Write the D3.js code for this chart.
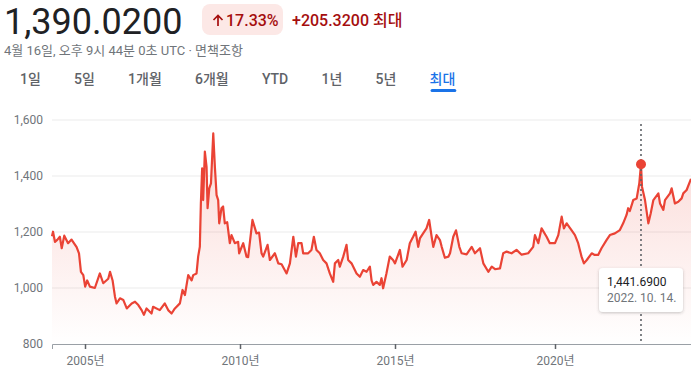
<!DOCTYPE html>
<html>
<head>
<meta charset="utf-8">
<script src="https://cdn.jsdelivr.net/npm/d3@7"></script>
<style>
  body { margin: 0; background: #fff; }
  svg { display: block; font-family: Roboto, "Noto Sans CJK KR", sans-serif; }
</style>
</head>
<body>
<div id="chart"></div>
<script>
// USD/KRW, max range
const dates = [
  '2003-12-08','2003-12-20','2004-01-12','2004-02-08','2004-03-10','2004-04-01','2004-05-01','2004-06-15',
  '2004-07-26','2004-09-24','2004-10-22','2004-11-14','2004-12-12','2005-01-03','2005-01-27','2005-02-28',
  '2005-04-27','2005-06-25','2005-08-04','2005-10-02','2005-10-23','2005-11-22','2005-12-20','2006-01-08',
  '2006-02-17','2006-03-29','2006-05-08','2006-07-05','2006-08-13','2006-09-21','2006-10-30','2006-11-26',
  '2006-12-27','2007-02-24','2007-03-14','2007-06-01','2007-07-30','2007-09-08','2007-10-18','2007-11-26',
  '2008-01-24','2008-02-24','2008-03-23','2008-05-01','2008-06-10','2008-06-29','2008-08-07','2008-08-26',
  '2008-09-15','2008-09-27','2008-10-12','2008-10-24','2008-11-13','2008-12-03','2008-12-15','2009-01-04',
  '2009-01-24','2009-02-20','2009-03-11','2009-03-31','2009-04-19','2009-05-01','2009-05-28','2009-06-16',
  '2009-07-06','2009-08-03','2009-09-03','2009-09-23','2009-11-01','2009-12-10','2009-12-22','2010-02-08',
  '2010-03-19','2010-04-07','2010-05-28','2010-07-14','2010-08-14','2010-09-12','2010-10-01','2010-11-22',
  '2010-12-19','2011-02-16','2011-03-28','2011-05-06','2011-07-04','2011-08-12','2011-09-21','2011-10-22',
  '2011-11-18','2011-12-27','2012-01-15','2012-03-14','2012-04-22','2012-05-20','2012-06-20','2012-07-29',
  '2012-09-07','2012-10-16','2012-11-24','2013-01-03','2013-01-23','2013-03-03','2013-03-22','2013-05-01',
  '2013-06-09','2013-06-28','2013-08-07','2013-10-05','2013-11-13','2013-12-22','2014-01-31','2014-03-11',
  '2014-03-31','2014-04-19','2014-05-28','2014-07-06','2014-07-26','2014-08-14','2014-09-22','2014-10-31',
  '2014-12-09','2015-01-01','2015-02-26','2015-03-28','2015-05-14','2015-06-19','2015-07-27','2015-08-24',
  '2015-09-23','2015-10-12','2015-11-18','2015-12-26','2016-01-26','2016-02-23','2016-03-13','2016-04-19',
  '2016-05-28','2016-06-17','2016-07-23','2016-09-01','2016-09-20','2016-10-27','2016-11-27','2017-01-04',
  '2017-01-31','2017-03-28','2017-05-25','2017-07-01','2017-08-28','2017-10-05','2017-12-01','2018-01-09',
  '2018-02-16','2018-04-13','2018-05-20','2018-06-28','2018-08-24','2018-10-19','2018-12-16','2019-03-01',
  '2019-04-27','2019-05-17','2019-06-24','2019-08-01','2019-09-27','2019-11-03','2020-01-01','2020-02-09',
  '2020-03-20','2020-04-15','2020-05-18','2020-07-16','2020-08-24','2020-10-01','2020-11-10','2020-12-08',
  '2021-01-11','2021-03-10','2021-04-15','2021-05-25','2021-07-04','2021-09-01','2021-10-11','2021-12-09',
  '2022-02-06','2022-03-17','2022-04-26','2022-05-15','2022-06-04','2022-07-14','2022-08-24','2022-09-24',
  '2022-10-14','2022-10-25','2022-11-27','2023-01-03','2023-01-29','2023-02-27','2023-04-23','2023-05-11',
  '2023-06-17','2023-07-05','2023-08-29','2023-09-16','2023-10-22','2023-11-28','2024-01-04','2024-01-22',
  '2024-02-28','2024-04-16'
];
const rates = [
  1184.7,1201,1165,1172,1183,1142,1187,1160,
  1173,1146,1124,1058,1046,1005,1027,1005,
  1000,1052,1017,1033,1058,1027,969,945,
  963,957,927,945,951,939,921,904,
  927,909,933,921,945,921,909,927,
  945,993,975,1046,1027,1046,1052,1112,
  1148,1302,1427,1314,1487,1433,1285,1356,
  1374,1552,1433,1332,1314,1231,1285,1291,
  1231,1235,1160,1189,1160,1165,1124,1160,
  1112,1110,1243,1195,1198,1124,1112,1154,
  1100,1124,1088,1085,1052,1088,1183,1112,
  1160,1160,1124,1124,1136,1183,1136,1124,
  1100,1088,1052,1022,1088,1100,1076,1112,
  1154,1100,1088,1052,1040,1064,1058,1076,
  1027,1011,1022,1011,1035,999,1052,1112,
  1100,1088,1136,1076,1100,1160,1183,1201,
  1147,1177,1195,1213,1243,1183,1147,1189,
  1171,1147,1108,1112,1124,1183,1206,1147,
  1124,1120,1147,1124,1142,1088,1058,1076,
  1067,1070,1124,1130,1124,1136,1119,1124,
  1147,1189,1160,1213,1183,1160,1160,1189,
  1255,1213,1231,1206,1189,1160,1112,1088,
  1100,1124,1118,1118,1142,1171,1189,1195,
  1207,1231,1261,1285,1275,1314,1320,1374,
  1441.69,1362,1314,1231,1267,1314,1338,1302,
  1279,1314,1338,1356,1302,1308,1320,1338,
  1350,1390.02
];

const yTicks = [800, 1000, 1200, 1400, 1600];
const yearTicks = [2005, 2010, 2015, 2020];
const tabs = ['1일', '5일', '1개월', '6개월', 'YTD', '1년', '5년', '최대'];
const activeTab = '최대';

const priceText = '1,390.0200';
const changePct = '17.33%';
const changeAbs = '+205.3200 최대';
const subtitle = '4월 16일, 오후 9시 44분 0초 UTC · 면책조항';
const markedDate = '2022-10-14';

const W = 691, H = 373;
const RED = '#ea4335', DARK_RED = '#a50e0e', GREY = '#70757a';

const parse = d3.timeParse('%Y-%m-%d');
const data = dates.map((d, i) => ({ date: parse(d), value: rates[i] }));
const marked = data.find(d => d3.timeFormat('%Y-%m-%d')(d.date) === markedDate);

const svg = d3.select('#chart').append('svg')
  .attr('width', W).attr('height', H);

// ---- header ----
svg.append('text')
  .attr('x', 4).attr('y', 34)
  .attr('font-size', 36).attr('fill', '#202124')
  .text(priceText);

svg.append('rect')
  .attr('x', 202).attr('y', 4).attr('width', 81).attr('height', 31)
  .attr('rx', 8).attr('fill', '#fce8e6');

svg.append('path')
  .attr('d', 'M218 26V15.5M213.5 20L218 15.5L222.5 20')
  .attr('fill', 'none').attr('stroke', DARK_RED).attr('stroke-width', 1.7);

svg.append('text')
  .attr('x', 226).attr('y', 26)
  .attr('font-size', 16).attr('font-weight', 500).attr('fill', DARK_RED)
  .text(changePct);

svg.append('text')
  .attr('x', 292).attr('y', 26)
  .attr('font-size', 16).attr('font-weight', 500).attr('fill', DARK_RED)
  .text(changeAbs);

svg.append('text')
  .attr('x', 4).attr('y', 55)
  .attr('font-size', 13).attr('fill', GREY)
  .text(subtitle);

// tab row, laid out left to right
let tabX = 20;
tabs.forEach(t => {
  const active = t === activeTab;
  const el = svg.append('text')
    .attr('x', tabX).attr('y', 84)
    .attr('font-size', 14).attr('font-weight', 500)
    .attr('fill', active ? '#1a73e8' : '#5f6368')
    .text(t);
  const w = el.node().getComputedTextLength();
  if (active) {
    svg.append('rect')
      .attr('x', tabX + 1).attr('y', 89).attr('width', w).attr('height', 3)
      .attr('rx', 1.5).attr('fill', '#1a73e8');
  }
  tabX += w + 33.2;
});

// ---- chart ----
const plot = { left: 52, right: 691, top: 120, bottom: 344 };

// google spaces the points by index, so the year ticks are not evenly spaced
const x = d3.scaleTime()
  .domain([data[0].date, new Date(2005, 0, 1), new Date(2010, 0, 1), new Date(2015, 0, 1),
           new Date(2020, 0, 1), marked.date, data[data.length - 1].date])
  .range([plot.left, 85, 240, 395, 555, 641, plot.right]);

const y = d3.scaleLinear()
  .domain([800, 1600])
  .range([plot.bottom, plot.top]);

const defs = svg.append('defs');
const grad = defs.append('linearGradient')
  .attr('id', 'areaFill')
  .attr('gradientUnits', 'userSpaceOnUse')
  .attr('x1', 0).attr('x2', 0)
  .attr('y1', plot.top).attr('y2', plot.bottom);
grad.append('stop').attr('offset', 0).attr('stop-color', RED).attr('stop-opacity', 0.22);
grad.append('stop').attr('offset', 1).attr('stop-color', RED).attr('stop-opacity', 0);

const shadow = defs.append('filter').attr('id', 'tipShadow')
  .attr('x', '-20%').attr('y', '-30%').attr('width', '140%').attr('height', '160%');
shadow.append('feDropShadow')
  .attr('dx', 0).attr('dy', 1).attr('stdDeviation', 1.5)
  .attr('flood-color', '#3c4043').attr('flood-opacity', 0.3);

// grid lines
svg.append('g')
  .selectAll('line')
  .data(yTicks.filter(t => t !== 800))
  .join('line')
  .attr('x1', plot.left).attr('x2', plot.right)
  .attr('y1', d => y(d)).attr('y2', d => y(d))
  .attr('stroke', '#ebebeb').attr('stroke-width', 1);

// y labels
const yAxis = svg.append('g')
  .attr('transform', `translate(${plot.left},0)`)
  .call(d3.axisLeft(y).tickValues(yTicks).tickSize(0).tickPadding(9).tickFormat(d3.format(',')));
yAxis.select('.domain').remove();
yAxis.selectAll('text')
  .attr('font-size', 12).attr('fill', GREY)
  .attr('font-family', 'Roboto, sans-serif');

// area + line
svg.append('path')
  .datum(data)
  .attr('fill', 'url(#areaFill)')
  .attr('d', d3.area().x(d => x(d.date)).y0(y(800)).y1(d => y(d.value)));

svg.append('path')
  .datum(data)
  .attr('fill', 'none')
  .attr('stroke', RED)
  .attr('stroke-width', 2.2)
  .attr('stroke-linejoin', 'round')
  .attr('d', d3.line().x(d => x(d.date)).y(d => y(d.value)));

// x axis
const xAxis = svg.append('g')
  .attr('transform', `translate(0,${plot.bottom})`)
  .call(d3.axisBottom(x)
    .tickValues(yearTicks.map(yr => new Date(yr, 0, 1)))
    .tickSizeOuter(0).tickSize(5).tickPadding(7)
    .tickFormat(d => d.getFullYear() + '년'));
xAxis.select('.domain').attr('stroke', '#9aa0a6');
xAxis.selectAll('.tick line').attr('stroke', '#5f6368').attr('stroke-width', 1.5);
xAxis.selectAll('text')
  .attr('font-size', 12).attr('fill', GREY)
  .attr('font-family', 'Roboto, "Noto Sans CJK KR", sans-serif');

// hover marker on the max point
const mx = x(marked.date), my = y(marked.value);
svg.append('line')
  .attr('x1', mx).attr('x2', mx)
  .attr('y1', plot.top + 4).attr('y2', plot.bottom)
  .attr('stroke', '#5f6368').attr('stroke-width', 1.6)
  .attr('stroke-dasharray', '2,3');

svg.append('circle')
  .attr('cx', mx).attr('cy', my).attr('r', 5)
  .attr('fill', RED);

const tip = svg.append('g').attr('transform', `translate(${mx - 42},268)`);
tip.append('rect')
  .attr('width', 84).attr('height', 44).attr('rx', 4)
  .attr('fill', '#fff').attr('filter', 'url(#tipShadow)');
tip.append('text')
  .attr('x', 8).attr('y', 18)
  .attr('font-size', 12).attr('fill', '#202124')
  .text(d3.format(',.4f')(marked.value));
tip.append('text')
  .attr('x', 8).attr('y', 34)
  .attr('font-size', 12).attr('fill', GREY)
  .text(d3.timeFormat('%Y. %m. %d.')(marked.date));
</script>
</body>
</html>
